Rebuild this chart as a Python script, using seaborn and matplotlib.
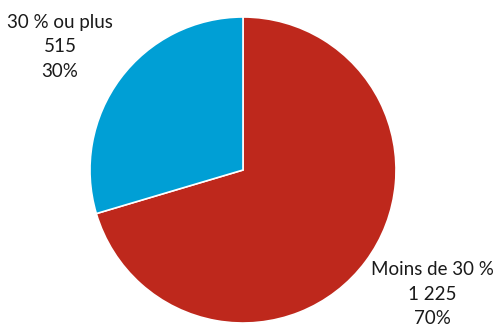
import matplotlib
matplotlib.use("Agg")
import matplotlib.pyplot as plt
import seaborn as sns

categories = ["Moins de 30 %", "30 % ou plus"]
counts = [1225, 515]
count_labels = ["1 225", "515"]
pct_labels = ["70%", "30%"]
colors = ["#BE281C", "#009FD5"]

sns.set_theme(style="white")
plt.rcParams['font.family'] = ['Lato', 'DejaVu Sans']

fig = plt.figure(figsize=(4.95, 3.27), dpi=100)
ax = fig.add_axes([0.1818, 0.0122, 0.6182, 0.9358])
ax.pie(counts, colors=colors, startangle=90, counterclock=False,
       wedgeprops=dict(edgecolor="white", linewidth=1.2))
ax.set_xlim(-1, 1)
ax.set_ylim(-1, 1)
ax.set_aspect("equal")
ax.axis("off")

fig.text(60/495, 1 - 47/327, f"{categories[1]}\n{count_labels[1]}\n{pct_labels[1]}",
         ha="center", va="center", fontsize=13.5, color="#1a1a1a", linespacing=1.55)
fig.text(432/495, 1 - 294/327, f"{categories[0]}\n{count_labels[0]}\n{pct_labels[0]}",
         ha="center", va="center", fontsize=13.5, color="#1a1a1a", linespacing=1.55)

fig.savefig("out.png", dpi=100, facecolor="white")
